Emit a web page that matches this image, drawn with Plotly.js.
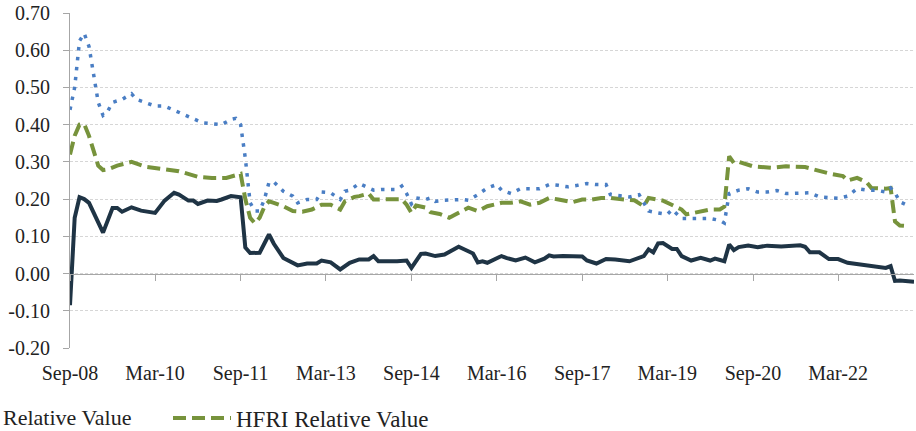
<!DOCTYPE html>
<html>
<head>
<meta charset="utf-8">
<script src="https://cdn.plot.ly/plotly-3.0.1.min.js"></script>
<style>html,body{margin:0;padding:0;background:#fff;}#chart{width:916px;height:431px;}</style>
</head>
<body>
<div id="chart"></div>
<script>
// Solid dark series
const darkDates = ['2008-09','2008-10','2008-11','2008-12','2009-01','2009-02','2009-03','2009-04','2009-06','2009-07','2009-08','2009-10','2009-12','2010-03','2010-05','2010-07','2010-08','2010-10','2010-11','2010-12','2011-02','2011-04','2011-05','2011-07','2011-09','2011-10','2011-11','2012-01','2012-03','2012-04','2012-06','2012-07','2012-09','2012-11','2013-01','2013-02','2013-04','2013-06','2013-08','2013-10','2013-12','2014-01','2014-02','2014-06','2014-08','2014-09','2014-11','2014-12','2015-02','2015-04','2015-07','2015-09','2015-10','2015-11','2015-12','2016-01','2016-04','2016-05','2016-07','2016-09','2016-11','2017-01','2017-02','2017-03','2017-05','2017-09','2017-10','2017-12','2018-02','2018-04','2018-07','2018-10','2018-11','2018-12','2019-01','2019-02','2019-04','2019-05','2019-06','2019-08','2019-10','2019-12','2020-01','2020-03','2020-04','2020-05','2020-06','2020-08','2020-10','2020-12','2021-03','2021-07','2021-08','2021-09','2021-11','2022-01','2022-03','2022-05','2022-07','2022-09','2022-11','2023-01','2023-02','2023-03','2023-04','2023-07'];
const darkValues = [-0.085,0.15,0.205,0.20,0.19,0.163,0.14,0.11,0.176,0.176,0.166,0.178,0.169,0.163,0.196,0.217,0.212,0.196,0.196,0.187,0.196,0.195,0.199,0.208,0.205,0.07,0.055,0.056,0.105,0.08,0.042,0.035,0.022,0.027,0.027,0.035,0.03,0.011,0.029,0.038,0.038,0.047,0.033,0.033,0.035,0.015,0.053,0.054,0.047,0.051,0.072,0.06,0.054,0.03,0.033,0.029,0.047,0.042,0.035,0.043,0.03,0.040,0.049,0.046,0.047,0.046,0.035,0.027,0.039,0.038,0.033,0.047,0.065,0.057,0.081,0.082,0.066,0.066,0.047,0.035,0.042,0.035,0.04,0.033,0.078,0.063,0.071,0.075,0.071,0.075,0.073,0.076,0.072,0.057,0.057,0.039,0.039,0.029,0.026,0.022,0.020,0.015,0.020,-0.02,-0.019,-0.022];

// HFRI Relative Value (dashed green)
const hfriDates = ['2008-09','2008-10','2008-11','2008-12','2009-01','2009-02','2009-03','2009-04','2009-05','2009-07','2009-10','2010-01','2010-04','2010-08','2010-12','2011-03','2011-06','2011-08','2011-09','2011-10','2011-11','2011-12','2012-01','2012-02','2012-03','2012-04','2012-06','2012-08','2012-10','2012-12','2013-02','2013-04','2013-06','2013-07','2013-09','2013-10','2013-12','2014-01','2014-04','2014-07','2014-08','2014-09','2014-10','2014-12','2015-01','2015-03','2015-05','2015-07','2015-09','2015-11','2016-01','2016-04','2016-06','2016-08','2016-10','2016-12','2017-02','2017-04','2017-07','2017-09','2017-11','2018-01','2018-03','2018-06','2018-08','2018-10','2018-11','2019-02','2019-04','2019-06','2019-07','2019-10','2019-12','2020-02','2020-03','2020-04','2020-05','2020-06','2020-09','2021-01','2021-04','2021-08','2021-11','2022-01','2022-04','2022-05','2022-07','2022-09','2022-10','2023-01','2023-02','2023-03','2023-04','2023-06'];
const hfriValues = [0.32,0.37,0.40,0.402,0.37,0.33,0.29,0.278,0.28,0.29,0.30,0.287,0.281,0.275,0.26,0.257,0.257,0.266,0.268,0.20,0.15,0.135,0.15,0.18,0.194,0.19,0.181,0.168,0.166,0.172,0.185,0.185,0.172,0.194,0.206,0.208,0.215,0.199,0.20,0.20,0.185,0.163,0.183,0.177,0.165,0.16,0.15,0.163,0.177,0.168,0.181,0.19,0.19,0.194,0.185,0.19,0.203,0.199,0.192,0.199,0.199,0.203,0.203,0.199,0.197,0.181,0.203,0.196,0.185,0.172,0.159,0.168,0.172,0.172,0.18,0.315,0.297,0.30,0.288,0.284,0.288,0.286,0.275,0.269,0.262,0.25,0.257,0.245,0.23,0.228,0.23,0.14,0.129,0.127];

// Dotted blue series
const blueDates = ['2008-09','2008-10','2008-11','2008-12','2009-01','2009-02','2009-03','2009-04','2009-05','2009-06','2009-08','2009-10','2009-11','2010-01','2010-03','2010-05','2010-07','2010-09','2010-11','2011-01','2011-03','2011-05','2011-07','2011-08','2011-09','2011-10','2011-11','2011-12','2012-01','2012-02','2012-03','2012-04','2012-06','2012-08','2012-09','2012-11','2013-01','2013-02','2013-04','2013-06','2013-07','2013-08','2013-10','2013-12','2014-01','2014-03','2014-06','2014-07','2014-08','2014-09','2014-10','2014-12','2015-01','2015-02','2015-04','2015-08','2015-09','2015-11','2016-01','2016-03','2016-04','2016-06','2016-08','2016-12','2017-02','2017-04','2017-06','2017-08','2017-10','2017-12','2018-02','2018-03','2018-05','2018-07','2018-09','2018-10','2018-11','2019-01','2019-03','2019-04','2019-06','2019-10','2019-12','2020-02','2020-03','2020-04','2020-06','2020-08','2020-10','2020-12','2021-02','2021-04','2021-07','2021-09','2021-11','2022-01','2022-03','2022-05','2022-07','2022-09','2022-11','2023-01','2023-02','2023-03','2023-04','2023-06'];
const blueValues = [0.44,0.50,0.625,0.645,0.61,0.53,0.46,0.425,0.436,0.46,0.468,0.483,0.468,0.459,0.45,0.45,0.438,0.427,0.416,0.405,0.402,0.40,0.414,0.417,0.40,0.31,0.19,0.168,0.168,0.20,0.245,0.246,0.221,0.208,0.19,0.199,0.199,0.219,0.217,0.199,0.221,0.224,0.242,0.23,0.224,0.226,0.226,0.235,0.215,0.187,0.203,0.199,0.203,0.194,0.197,0.199,0.197,0.212,0.23,0.239,0.224,0.215,0.228,0.228,0.239,0.237,0.233,0.237,0.242,0.239,0.239,0.212,0.21,0.206,0.212,0.192,0.168,0.163,0.159,0.172,0.148,0.148,0.148,0.143,0.136,0.215,0.224,0.228,0.219,0.219,0.223,0.215,0.215,0.217,0.206,0.203,0.202,0.208,0.228,0.224,0.224,0.219,0.23,0.217,0.193,0.181];

const yTickVals = [-0.2,-0.1,0,0.1,0.2,0.3,0.4,0.5,0.6,0.7];
const yTickText = ['-0.20','-0.10','0.00','0.10','0.20','0.30','0.40','0.50','0.60','0.70'];
const xRange = ['2008-09-01','2023-07-01'];
const darkName = 'Relative Value';
const hfriName = 'HFRI Relative Value';

const FONT = 'Liberation Serif';

const traces = [
  {x: darkDates, y: darkValues, type: 'scatter', mode: 'lines', name: darkName, showlegend: false,
   line: {color: '#1F3445', width: 4}},
  {x: hfriDates, y: hfriValues, type: 'scatter', mode: 'lines', name: hfriName,
   line: {color: '#77933C', width: 4, dash: '13px,6px'}},
  {x: blueDates, y: blueValues, type: 'scatter', mode: 'lines', name: 'Relative Value Index', showlegend: false,
   line: {color: '#4A7EC4', width: 3.5, dash: '3.5px,6.5px'}}
];

const layout = {
  width: 916, height: 431,
  margin: {l: 70, r: 2, t: 13, b: 83},
  paper_bgcolor: '#fff', plot_bgcolor: '#fff',
  font: {family: FONT, size: 20, color: '#222'},
  showlegend: true,
  legend: {orientation: 'h', xref: 'container', yref: 'container', x: 168/916, xanchor: 'left',
           y: 0.03, yanchor: 'middle', itemwidth: 58,
           font: {family: FONT, size: 23, color: '#222'}, bgcolor: 'rgba(0,0,0,0)'},
  annotations: [
    {text: darkName, xref: 'paper', yref: 'paper', x: (1 - 70) / 844, xanchor: 'left',
     y: (348.3 - 418) / 335, yanchor: 'middle', showarrow: false,
     font: {family: FONT, size: 22, color: '#222'}}
  ],
  xaxis: {type: 'date', range: xRange, anchor: 'free', position: 0.2/0.9,
          tickformat: '%b-%y', dtick: 'M18', tick0: '2008-09-01',
          ticks: 'outside', ticklen: 6, tickcolor: '#A6A6A6', tickwidth: 1,
          showline: true, linecolor: '#A6A6A6', linewidth: 1,
          showgrid: false, zeroline: false, ticklabelstandoff: 75, automargin: false,
          tickfont: {family: FONT, size: 20, color: '#222'}},
  yaxis: {range: [-0.2, 0.7], tickvals: yTickVals, ticktext: yTickText,
          ticks: 'outside', ticklen: 6, tickcolor: '#A6A6A6', tickwidth: 1,
          showline: true, linecolor: '#A6A6A6', linewidth: 1,
          showgrid: true, gridcolor: '#D6D6D6', gridwidth: 1, griddash: '3px,2px',
          zeroline: false, ticklabelstandoff: 9, automargin: false,
          tickfont: {family: FONT, size: 20, color: '#222'}}
};

Plotly.newPlot('chart', traces, layout, {displayModeBar: false, staticPlot: true});
</script>
</body>
</html>
